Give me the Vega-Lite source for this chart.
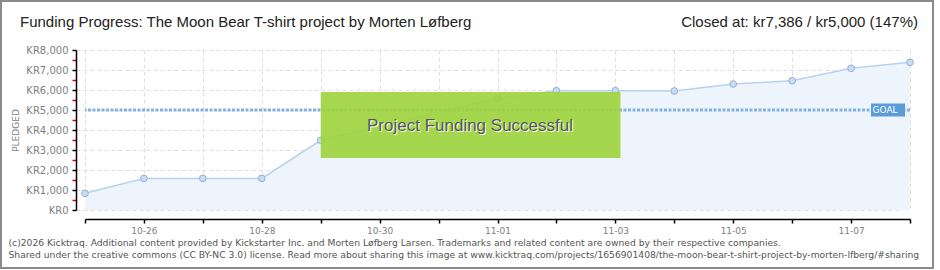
{
  "$schema": "https://vega.github.io/schema/vega-lite/v6.json",
  "width": 825,
  "height": 160,
  "autosize": {"type": "none"},
  "padding": {"left": 85, "top": 50, "right": 30, "bottom": 60},
  "background": "white",
  "config": {
    "view": {"stroke": null},
    "font": "DejaVu Sans",
    "axisY": {
      "titleFont": "DejaVu Sans", "titleFontSize": 9, "titleFontWeight": "normal", "titleColor": "#808080", "titlePadding": 5,
      "labelOverlap": false, "labelFlush": false, "labelFont": "DejaVu Sans", "labelFontSize": 10, "labelColor": "#808080", "labelPadding": 4,
      "offset": 9, "domainColor": "#000000", "domainWidth": 1.5, "tickSize": 4, "tickWidth": 1.5,
      "grid": true, "gridColor": "#dedede", "gridDash": [4, 3]
    }
  },
  "datasets": {
    "pledges": [
      {"date": "2025-10-25", "pledged": 835},
      {"date": "2025-10-26", "pledged": 1580},
      {"date": "2025-10-27", "pledged": 1580},
      {"date": "2025-10-28", "pledged": 1580},
      {"date": "2025-10-29", "pledged": 3485},
      {"date": "2025-11-01", "pledged": 5585},
      {"date": "2025-11-02", "pledged": 5965},
      {"date": "2025-11-03", "pledged": 5965},
      {"date": "2025-11-04", "pledged": 5950},
      {"date": "2025-11-05", "pledged": 6300},
      {"date": "2025-11-06", "pledged": 6465},
      {"date": "2025-11-07", "pledged": 7085},
      {"date": "2025-11-08", "pledged": 7386}
    ],
    "goal": [{"goal": 5000, "label": "GOAL"}]
  },
  "layer": [
    {
      "data": {"name": "pledges"},
      "mark": {"type": "area", "color": "#edf4fc", "opacity": 1, "line": {"color": "#b7d2ef", "strokeWidth": 1.5}},
      "encoding": {
        "x": {
          "field": "date", "type": "temporal",
          "scale": {"type": "utc", "domain": [{"year": 2025, "month": 10, "date": 25, "utc": true}, {"year": 2025, "month": 11, "date": 8, "utc": true}], "nice": false},
          "axis": {
            "values": [
              {"year": 2025, "month": 10, "date": 25, "utc": true},
              {"year": 2025, "month": 10, "date": 26, "utc": true},
              {"year": 2025, "month": 10, "date": 27, "utc": true},
              {"year": 2025, "month": 10, "date": 28, "utc": true},
              {"year": 2025, "month": 10, "date": 29, "utc": true},
              {"year": 2025, "month": 10, "date": 30, "utc": true},
              {"year": 2025, "month": 10, "date": 31, "utc": true},
              {"year": 2025, "month": 11, "date": 1, "utc": true},
              {"year": 2025, "month": 11, "date": 2, "utc": true},
              {"year": 2025, "month": 11, "date": 3, "utc": true},
              {"year": 2025, "month": 11, "date": 4, "utc": true},
              {"year": 2025, "month": 11, "date": 5, "utc": true},
              {"year": 2025, "month": 11, "date": 6, "utc": true},
              {"year": 2025, "month": 11, "date": 7, "utc": true},
              {"year": 2025, "month": 11, "date": 8, "utc": true}
            ],
            "labelExpr": "round((datum.value - 1761350400000) / 86400000) % 2 == 1 ? utcFormat(datum.value, '%m-%d') : ''",
            "labelOverlap": false,
            "labelFlush": false,
            "labelFont": "DejaVu Sans",
            "labelFontSize": 9,
            "labelColor": "#808080",
            "labelPadding": 3,
            "offset": 9,
            "domainColor": "#000000",
            "domainWidth": 1.5,
            "tickColor": "#000000",
            "tickSize": 4,
            "tickWidth": 1.5,
            "grid": true,
            "gridColor": "#dedede",
            "gridDash": [4, 3],
            "title": [
              "(c)2026 Kicktraq. Additional content provided by Kickstarter Inc. and Morten Løfberg Larsen. Trademarks and related content are owned by their respective companies.",
              "Shared under the creative commons (CC BY-NC 3.0) license. Read more about sharing this image at www.kicktraq.com/projects/1656901408/the-moon-bear-t-shirt-project-by-morten-lfberg/#sharing"
            ],
            "titleAnchor": "start",
            "titleAlign": "left",
            "titleX": -77,
            "titleY": 19,
            "titleBaseline": "top",
            "titleFont": "DejaVu Sans",
            "titleFontSize": 9.2,
            "titleFontWeight": "normal",
            "titleColor": "#555555",
            "titleLineHeight": 12
          }
        },
        "y": {
          "field": "pledged", "type": "quantitative", "stack": null,
          "scale": {"domain": [0, 8000], "nice": false, "zero": true},
          "axis": {"title": "PLEDGED", "values": [0, 500, 1000, 1500, 2000, 2500, 3000, 3500, 4000, 4500, 5000, 5500, 6000, 6500, 7000, 7500, 8000], "labelExpr": "datum.value % 1000 == 0 ? 'KR' + format(datum.value, ',') : ''", "tickColor": {"condition": {"test": "datum.value % 1000 == 0", "value": "#000000"}, "value": "#e00000"}, "gridOpacity": {"condition": {"test": "datum.value % 1000 == 0", "value": 1}, "value": 0}}
        }
      }
    },
    {
      "data": {"name": "goal"},
      "mark": {"type": "rule", "color": "#86b1e0", "strokeWidth": 3, "strokeDash": [3, 1.5]},
      "encoding": {"y": {"field": "goal", "type": "quantitative",
        "axis": {"title": "PLEDGED", "values": [0, 500, 1000, 1500, 2000, 2500, 3000, 3500, 4000, 4500, 5000, 5500, 6000, 6500, 7000, 7500, 8000], "labelExpr": "datum.value % 1000 == 0 ? 'KR' + format(datum.value, ',') : ''", "tickColor": {"condition": {"test": "datum.value % 1000 == 0", "value": "#000000"}, "value": "#e00000"}, "gridOpacity": {"condition": {"test": "datum.value % 1000 == 0", "value": 1}, "value": 0}}}}
    },
    {
      "data": {"name": "pledges"},
      "mark": {"type": "point", "filled": true, "fill": "#c7ddf6", "stroke": "#97b0cf", "strokeWidth": 1, "size": 45, "opacity": 1},
      "encoding": {
        "x": {"field": "date", "type": "temporal"},
        "y": {"field": "pledged", "type": "quantitative",
          "axis": {"title": "PLEDGED", "values": [0, 500, 1000, 1500, 2000, 2500, 3000, 3500, 4000, 4500, 5000, 5500, 6000, 6500, 7000, 7500, 8000], "labelExpr": "datum.value % 1000 == 0 ? 'KR' + format(datum.value, ',') : ''", "tickColor": {"condition": {"test": "datum.value % 1000 == 0", "value": "#000000"}, "value": "#e00000"}, "gridOpacity": {"condition": {"test": "datum.value % 1000 == 0", "value": 1}, "value": 0}}}
      }
    },
    {
      "data": {"name": "goal"},
      "mark": {"type": "point", "filled": true, "fill": "#5b9bd9", "opacity": 1, "strokeWidth": 0, "size": 1156, "shape": "M-1,-0.38L1,-0.38L1,0.38L-1,0.38Z"},
      "encoding": {
        "x": {"datum": {"year": 2025, "month": 11, "date": 7, "hours": 15, "minutes": 3, "utc": true}, "type": "temporal"},
        "y": {"field": "goal", "type": "quantitative",
          "axis": {"title": "PLEDGED", "values": [0, 500, 1000, 1500, 2000, 2500, 3000, 3500, 4000, 4500, 5000, 5500, 6000, 6500, 7000, 7500, 8000], "labelExpr": "datum.value % 1000 == 0 ? 'KR' + format(datum.value, ',') : ''", "tickColor": {"condition": {"test": "datum.value % 1000 == 0", "value": "#000000"}, "value": "#e00000"}, "gridOpacity": {"condition": {"test": "datum.value % 1000 == 0", "value": 1}, "value": 0}}}
      }
    },
    {
      "data": {"name": "goal"},
      "mark": {"type": "text", "color": "#ffffff", "font": "DejaVu Sans", "fontSize": 9, "align": "center", "baseline": "middle"},
      "encoding": {
        "x": {"datum": {"year": 2025, "month": 11, "date": 7, "hours": 13, "minutes": 50, "utc": true}, "type": "temporal"},
        "y": {"field": "goal", "type": "quantitative",
          "axis": {"title": "PLEDGED", "values": [0, 500, 1000, 1500, 2000, 2500, 3000, 3500, 4000, 4500, 5000, 5500, 6000, 6500, 7000, 7500, 8000], "labelExpr": "datum.value % 1000 == 0 ? 'KR' + format(datum.value, ',') : ''", "tickColor": {"condition": {"test": "datum.value % 1000 == 0", "value": "#000000"}, "value": "#e00000"}, "gridOpacity": {"condition": {"test": "datum.value % 1000 == 0", "value": 1}, "value": 0}}},
        "text": {"field": "label"}
      }
    },
    {
      "data": {"name": "goal"},
      "mark": {"type": "rect", "fill": "#9ed43f", "opacity": 0.92, "clip": false},
      "encoding": {
        "x": {"datum": {"year": 2025, "month": 10, "date": 29, "utc": true}, "type": "temporal"},
        "x2": {"datum": {"year": 2025, "month": 11, "date": 3, "hours": 2, "minutes": 5, "utc": true}},
        "y": {"datum": 5900, "type": "quantitative",
          "axis": {"title": "PLEDGED", "values": [0, 500, 1000, 1500, 2000, 2500, 3000, 3500, 4000, 4500, 5000, 5500, 6000, 6500, 7000, 7500, 8000], "labelExpr": "datum.value % 1000 == 0 ? 'KR' + format(datum.value, ',') : ''", "tickColor": {"condition": {"test": "datum.value % 1000 == 0", "value": "#000000"}, "value": "#e00000"}, "gridOpacity": {"condition": {"test": "datum.value % 1000 == 0", "value": 1}, "value": 0}}},
        "y2": {"datum": 2600}
      }
    },
    {
      "data": {"name": "goal"},
      "mark": {"type": "text", "text": "Project Funding Successful", "color": "#ffffff", "font": "Liberation Sans", "fontSize": 17, "align": "center", "baseline": "middle", "dx": 1, "dy": 1, "clip": false},
      "encoding": {
        "x": {"datum": {"year": 2025, "month": 10, "date": 31, "hours": 12, "minutes": 48, "utc": true}, "type": "temporal"},
        "y": {"datum": 4200, "type": "quantitative",
          "axis": {"title": "PLEDGED", "values": [0, 500, 1000, 1500, 2000, 2500, 3000, 3500, 4000, 4500, 5000, 5500, 6000, 6500, 7000, 7500, 8000], "labelExpr": "datum.value % 1000 == 0 ? 'KR' + format(datum.value, ',') : ''", "tickColor": {"condition": {"test": "datum.value % 1000 == 0", "value": "#000000"}, "value": "#e00000"}, "gridOpacity": {"condition": {"test": "datum.value % 1000 == 0", "value": 1}, "value": 0}}}
      }
    },
    {
      "data": {"name": "goal"},
      "mark": {"type": "text", "text": "Project Funding Successful", "color": "#555555", "font": "Liberation Sans", "fontSize": 17, "align": "center", "baseline": "middle", "clip": false},
      "encoding": {
        "x": {"datum": {"year": 2025, "month": 10, "date": 31, "hours": 12, "minutes": 48, "utc": true}, "type": "temporal"},
        "y": {"datum": 4200, "type": "quantitative",
          "axis": {"title": "PLEDGED", "values": [0, 500, 1000, 1500, 2000, 2500, 3000, 3500, 4000, 4500, 5000, 5500, 6000, 6500, 7000, 7500, 8000], "labelExpr": "datum.value % 1000 == 0 ? 'KR' + format(datum.value, ',') : ''", "tickColor": {"condition": {"test": "datum.value % 1000 == 0", "value": "#000000"}, "value": "#e00000"}, "gridOpacity": {"condition": {"test": "datum.value % 1000 == 0", "value": 1}, "value": 0}}}
      }
    },
    {
      "data": {"name": "goal"},
      "mark": {"type": "text", "text": "Funding Progress: The Moon Bear T-shirt project by Morten Løfberg", "color": "#222222", "font": "Liberation Sans", "fontSize": 15, "align": "left", "baseline": "middle", "clip": false},
      "encoding": {
        "x": {"datum": {"year": 2025, "month": 10, "date": 23, "hours": 21, "minutes": 32, "utc": true}, "type": "temporal"},
        "y": {"datum": 9400, "type": "quantitative",
          "axis": {"title": "PLEDGED", "values": [0, 500, 1000, 1500, 2000, 2500, 3000, 3500, 4000, 4500, 5000, 5500, 6000, 6500, 7000, 7500, 8000], "labelExpr": "datum.value % 1000 == 0 ? 'KR' + format(datum.value, ',') : ''", "tickColor": {"condition": {"test": "datum.value % 1000 == 0", "value": "#000000"}, "value": "#e00000"}, "gridOpacity": {"condition": {"test": "datum.value % 1000 == 0", "value": 1}, "value": 0}}}
      }
    },
    {
      "data": {"name": "goal"},
      "mark": {"type": "text", "text": "Closed at:  kr7,386  /  kr5,000 (147%)", "color": "#222222", "font": "Liberation Sans", "fontSize": 15, "align": "right", "baseline": "middle", "clip": false},
      "encoding": {
        "x": {"datum": {"year": 2025, "month": 11, "date": 8, "hours": 3, "minutes": 15, "utc": true}, "type": "temporal"},
        "y": {"datum": 9400, "type": "quantitative",
          "axis": {"title": "PLEDGED", "values": [0, 500, 1000, 1500, 2000, 2500, 3000, 3500, 4000, 4500, 5000, 5500, 6000, 6500, 7000, 7500, 8000], "labelExpr": "datum.value % 1000 == 0 ? 'KR' + format(datum.value, ',') : ''", "tickColor": {"condition": {"test": "datum.value % 1000 == 0", "value": "#000000"}, "value": "#e00000"}, "gridOpacity": {"condition": {"test": "datum.value % 1000 == 0", "value": 1}, "value": 0}}}
      }
    },
    {
      "data": {"name": "goal"},
      "mark": {"type": "rect", "fill": null, "stroke": "#8a8a8a", "strokeWidth": 2, "clip": false},
      "encoding": {
        "x": {"datum": {"year": 2025, "month": 10, "date": 23, "hours": 13, "minutes": 47, "utc": true}, "type": "temporal"},
        "x2": {"datum": {"year": 2025, "month": 11, "date": 8, "hours": 9, "minutes": 22, "utc": true}},
        "y": {"datum": 10450, "type": "quantitative",
          "axis": {"title": "PLEDGED", "values": [0, 500, 1000, 1500, 2000, 2500, 3000, 3500, 4000, 4500, 5000, 5500, 6000, 6500, 7000, 7500, 8000], "labelExpr": "datum.value % 1000 == 0 ? 'KR' + format(datum.value, ',') : ''", "tickColor": {"condition": {"test": "datum.value % 1000 == 0", "value": "#000000"}, "value": "#e00000"}, "gridOpacity": {"condition": {"test": "datum.value % 1000 == 0", "value": 1}, "value": 0}}},
        "y2": {"datum": -2900}
      }
    }
  ]
}
